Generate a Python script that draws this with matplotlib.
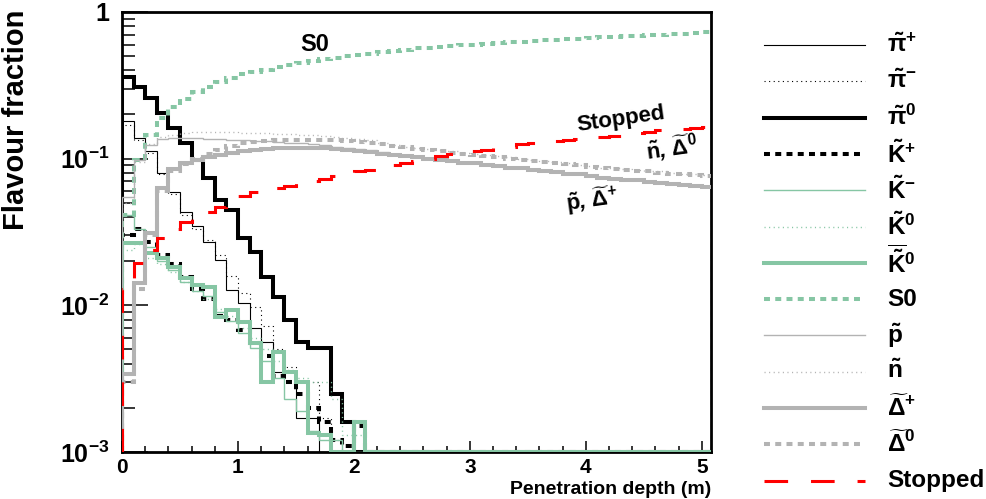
import numpy as np
import matplotlib
matplotlib.use("Agg")
import matplotlib.pyplot as plt
from matplotlib.lines import Line2D
from matplotlib.ticker import FixedLocator, MultipleLocator, NullFormatter

plt.rcParams['font.family'] = ['Liberation Sans', 'DejaVu Sans']
plt.rcParams['font.weight'] = 'bold'
plt.rcParams['axes.labelweight'] = 'bold'
plt.rcParams['mathtext.fontset'] = 'custom'
plt.rcParams['mathtext.rm'] = 'Liberation Sans:bold'
plt.rcParams['mathtext.bf'] = 'Liberation Sans:bold'
plt.rcParams['mathtext.it'] = 'Liberation Sans:italic:bold'
plt.rcParams['mathtext.default'] = 'bf'
plt.rcParams['lines.scale_dashes'] = False

# histogram bins: 0.1 m wide, 0 .. 5.1 m
n_bins = 51
edges = np.linspace(0.0, 5.1, n_bins + 1)

# flavour fractions per bin (short-range ones are zero after the listed bins)
pi_plus = [0.18, 0.138, 0.112, 0.080, 0.059, 0.043, 0.035, 0.027, 0.0204, 0.0128,
           0.0104, 0.0070, 0.0056, 0.0035, 0.0035, 0.0017, 0.0017]
pi_minus = [0.17, 0.135, 0.110, 0.078, 0.057, 0.041, 0.033, 0.028, 0.022, 0.0158,
            0.0122, 0.0098, 0.0072, 0.0050, 0.0038, 0.0030, 0.0030, 0.0017, 0.0012]
pi_zero = [0.36, 0.31, 0.26, 0.205, 0.162, 0.128, 0.098, 0.074, 0.052, 0.045,
           0.029, 0.023, 0.0156, 0.0114, 0.0079, 0.0056, 0.0051, 0.0051, 0.0025, 0.0016]
k_plus = [0.030, 0.033, 0.027, 0.022, 0.019, 0.0155, 0.013, 0.011, 0.0085, 0.0080,
          0.0068, 0.0055, 0.0045, 0.0033, 0.0030, 0.0025, 0.0020, 0.0016, 0.0012, 0.0011,
          0.0015]
k_minus = [0.041, 0.033, 0.025, 0.020, 0.0175, 0.0145, 0.0125, 0.0115, 0.0090, 0.0078,
           0.0065, 0.0051, 0.0042, 0.0032, 0.0023, 0.0019, 0.0014, 0.0012, 0.0012]
k_zero = [0.024, 0.026, 0.021, 0.019, 0.017, 0.0145, 0.0125, 0.011, 0.0095, 0.0085,
          0.0070, 0.0060, 0.0050, 0.0042, 0.0036, 0.0032, 0.0030, 0.0030, 0.0023, 0.0013,
          0.0013]
k_zero_bar = [0.0266, 0.0266, 0.0228, 0.0211, 0.0183, 0.0154, 0.0138, 0.0133, 0.0083, 0.0093,
              0.0077, 0.0055, 0.0030, 0.0048, 0.0035, 0.0030, 0.00135, 0.0013, 0, 0,
              0.0016]
s_zero = [0.041, 0.098, 0.145, 0.19, 0.225, 0.255, 0.285, 0.31, 0.335, 0.355,
          0.375, 0.39, 0.405, 0.42, 0.435, 0.45, 0.46, 0.475, 0.485, 0.50,
          0.51, 0.52, 0.53, 0.54, 0.55, 0.565, 0.572, 0.58, 0.586, 0.593,
          0.60, 0.607, 0.613, 0.62, 0.627, 0.633, 0.64, 0.645, 0.652, 0.658,
          0.665, 0.67, 0.677, 0.683, 0.69, 0.695, 0.70, 0.707, 0.712, 0.72,
          0.73]
p_tilde = [0.055, 0.098, 0.124, 0.136, 0.139, 0.139, 0.138, 0.137, 0.136, 0.135,
           0.133, 0.132, 0.131, 0.130, 0.128, 0.127, 0.125, 0.123, 0.121, 0.119,
           0.117, 0.114, 0.111, 0.108, 0.105, 0.103, 0.101, 0.099, 0.097, 0.095,
           0.093, 0.092, 0.090, 0.088, 0.086, 0.085, 0.083, 0.081, 0.080, 0.078,
           0.077, 0.075, 0.074, 0.073, 0.071, 0.070, 0.069, 0.067, 0.066, 0.065,
           0.064]
n_tilde = [0.05, 0.095, 0.125, 0.14, 0.146, 0.15, 0.151, 0.151, 0.151, 0.151,
           0.150, 0.150, 0.149, 0.148, 0.147, 0.146, 0.145, 0.143, 0.141, 0.139,
           0.137, 0.134, 0.127, 0.123, 0.120, 0.118, 0.116, 0.114, 0.112, 0.110,
           0.108, 0.106, 0.104, 0.102, 0.100, 0.098, 0.097, 0.095, 0.093, 0.091,
           0.089, 0.087, 0.086, 0.085, 0.084, 0.083, 0.082, 0.080, 0.079, 0.078,
           0.077]
delta_plus = [0.0034, 0.0142, 0.031, 0.063, 0.085, 0.094, 0.098, 0.103, 0.106, 0.109,
              0.112, 0.114, 0.116, 0.118, 0.119, 0.119, 0.119, 0.118, 0.117, 0.115,
              0.113, 0.111, 0.108, 0.106, 0.104, 0.102, 0.100, 0.098, 0.096, 0.094,
              0.093, 0.091, 0.089, 0.087, 0.086, 0.084, 0.082, 0.081, 0.079, 0.078,
              0.076, 0.074, 0.073, 0.072, 0.071, 0.069, 0.068, 0.067, 0.066, 0.065,
              0.064]
delta_zero = [0.003, 0.013, 0.030, 0.060, 0.082, 0.092, 0.099, 0.107, 0.115, 0.122,
              0.127, 0.130, 0.132, 0.134, 0.135, 0.135, 0.135, 0.134, 0.133, 0.131,
              0.129, 0.127, 0.125, 0.122, 0.120, 0.117, 0.115, 0.112, 0.110, 0.108,
              0.106, 0.104, 0.102, 0.100, 0.098, 0.097, 0.095, 0.093, 0.092, 0.090,
              0.088, 0.086, 0.085, 0.084, 0.083, 0.082, 0.080, 0.079, 0.078, 0.077,
              0.076]
stopped = [0.013, 0.0195, 0.024, 0.029, 0.033, 0.037, 0.039, 0.043, 0.047, 0.052,
           0.056, 0.059, 0.061, 0.063, 0.065, 0.068, 0.070, 0.073, 0.076, 0.079,
           0.082, 0.084, 0.087, 0.090, 0.093, 0.097, 0.100, 0.104, 0.108, 0.110,
           0.112, 0.114, 0.118, 0.121, 0.125, 0.127, 0.130, 0.132, 0.134, 0.137,
           0.139, 0.140, 0.142, 0.146, 0.149, 0.152, 0.156, 0.158, 0.160, 0.162,
           0.164]

labels = [r'$\tilde{\pi}^{+}$', r'$\tilde{\pi}^{-}$', r'$\tilde{\pi}^{0}$',
          r'$\tilde{K}^{+}$', r'$\tilde{K}^{-}$', r'$\tilde{K}^{0}$',
          r'$\overline{\tilde{K}}^{0}$', 'S0', r'$\tilde{p}$', r'$\tilde{n}$',
          r'$\widetilde{\Delta}^{+}$', r'$\widetilde{\Delta}^{0}$', 'Stopped']

ytick_values = [1e-3, 1e-2, 1e-1, 1]
ytick_labels = [r'$10^{-3}$', r'$10^{-2}$', r'$10^{-1}$', '1']

green = '#86c6a4'
grey = '#b3b3b3'
thin, thick = 0.8, 2.9
dotted = (0, (0.8, 2.5))
dashed = (0, (4.3, 3.8))
styles = [
    (pi_plus, 'black', thin, '-'),
    (pi_minus, 'black', thin, dotted),
    (pi_zero, 'black', thick, '-'),
    (k_plus, 'black', thick, dashed),
    (k_minus, green, 1.0, '-'),
    (k_zero, green, 1.0, dotted),
    (k_zero_bar, green, thick, '-'),
    (s_zero, green, thick, dashed),
    (p_tilde, grey, 1.0, '-'),
    (n_tilde, grey, 1.0, dotted),
    (delta_plus, grey, thick, '-'),
    (delta_zero, grey, thick, dashed),
    (stopped, 'red', 2.2, (0, (17, 16.5))),
]

ymin = 1e-3


def pad(vals):
    v = np.zeros(n_bins)
    v[:len(vals)] = vals
    return v


fig = plt.figure(figsize=(9.87, 4.99), dpi=100)
ax = fig.add_axes([0.1236, 0.0942, 0.5968, 0.8818])

for (vals, col, lw, ls), lab in zip(styles, labels):
    y = np.maximum(pad(vals), ymin)  # empty bins sit on the frame like in ROOT
    ax.stairs(y, edges, baseline=ymin, color=col, lw=lw, linestyle=ls,
              label=lab, zorder=3)

ax.set_yscale('log')
ax.set_xlim(0, 5.08)
ax.set_ylim(ymin, 1)

ax.yaxis.set_major_locator(FixedLocator(ytick_values))
ax.set_yticklabels(ytick_labels, fontsize=18)
minor = [m * 10.0 ** e for e in (-3, -2, -1) for m in range(2, 10)]
ax.yaxis.set_minor_locator(FixedLocator(minor))
ax.yaxis.set_minor_formatter(NullFormatter())
ax.xaxis.set_major_locator(MultipleLocator(1))
ax.xaxis.set_minor_locator(MultipleLocator(0.2))
ax.tick_params(axis='x', which='major', direction='in', length=8, width=1.1,
               labelsize=15, pad=4)
ax.tick_params(axis='x', which='minor', direction='in', length=4, width=1.1)
ax.tick_params(axis='y', which='major', direction='in', length=19, width=1.1, pad=9)
ax.tick_params(axis='y', which='minor', direction='in', length=9.5, width=1.1)
for s in ax.spines.values():
    s.set_linewidth(2)

ax.set_xlabel('Penetration depth (m)', fontsize=14, loc='right', labelpad=3)
ax.set_ylabel('Flavour fraction', fontsize=21, loc='top')
ax.yaxis.set_label_coords(-0.156, 1.005)

# labels on the curves
ax.text(1.66, 0.6, 'S0', fontsize=17, ha='center', va='center')
ax.text(4.3, 0.186, 'Stopped', fontsize=16, ha='center', va='center', rotation=8)
ax.text(4.74, 0.118, r'$\tilde{n}$, $\widetilde{\Delta}^{0}$', fontsize=16,
        ha='center', va='center', rotation=8, style='italic')
ax.text(4.05, 0.052, r'$\tilde{p}$, $\widetilde{\Delta}^{+}$', fontsize=16,
        ha='center', va='center', rotation=8, style='italic')

# legend in ROOT style, one row every ~36 px
for i, ((vals, col, lw, ls), lab) in enumerate(zip(styles, labels)):
    yf = 1 - (45 + i * 36.3) / 499
    fig.add_artist(Line2D([0.774, 0.876], [yf, yf], transform=fig.transFigure,
                          color=col, lw=lw, linestyle=ls))
    fig.text(0.899, yf, lab, fontsize=17.5, va='center', ha='left')

fig.savefig('out.png', dpi=100)
